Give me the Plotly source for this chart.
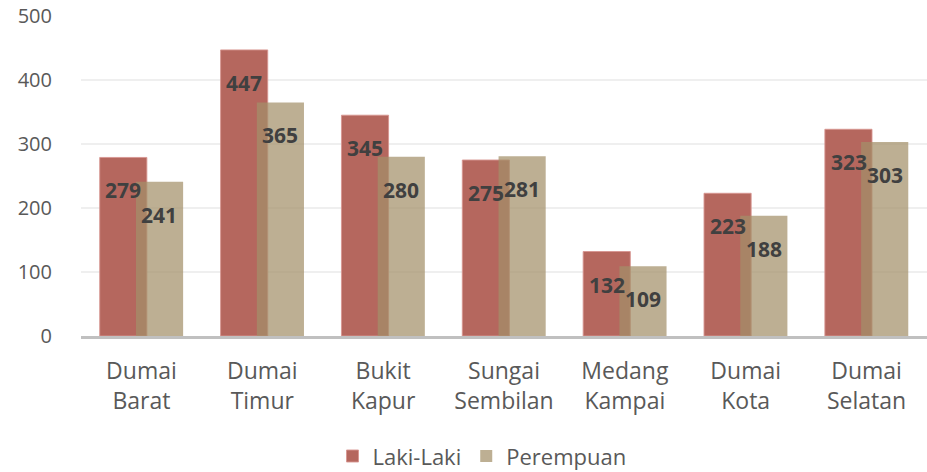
import plotly.graph_objects as go

categories = ["Dumai<br>Barat", "Dumai<br>Timur", "Bukit<br>Kapur", "Sungai<br>Sembilan",
              "Medang<br>Kampai", "Dumai<br>Kota", "Dumai<br>Selatan"]
laki = [279, 447, 345, 275, 132, 223, 323]
perempuan = [241, 365, 280, 281, 109, 188, 303]
series_names = ["Laki-Laki", "Perempuan"]
y_ticks = [0, 100, 200, 300, 400, 500]

FONT = "Open Sans"
TXT = "#595959"

fig = go.Figure()
fig.add_trace(go.Bar(
    x=categories, y=laki, name=series_names[0],
    width=0.39, offset=-0.345,
    marker=dict(color="rgb(181,103,94)", line=dict(color="rgba(215,150,145,0.9)", width=1)),
))
fig.add_trace(go.Bar(
    x=categories, y=perempuan, name=series_names[1],
    width=0.39, offset=-0.045,
    marker=dict(color="rgba(163,144,105,0.72)", line=dict(width=0)),
))

for vals, shift in ((laki, -18), (perempuan, 18)):
    for c, v in zip(categories, vals):
        fig.add_annotation(x=c, y=v, text=str(v), showarrow=False,
                           xshift=shift, yshift=-33,
                           font=dict(family=FONT, size=21, color="#404040", weight="bold"))

fig.update_layout(
    width=927, height=472,
    margin=dict(l=81, r=0, t=16, b=136, autoexpand=False),
    barmode="overlay",
    plot_bgcolor="white", paper_bgcolor="white",
    font=dict(family=FONT, color=TXT),
    showlegend=True,
    legend=dict(orientation="h", x=0.474, xanchor="center", y=-0.31, yanchor="top",
                font=dict(family=FONT, size=22, color=TXT), traceorder="normal"),
)
fig.update_xaxes(
    automargin=False,
    showline=True, linecolor="#c0c0c0", linewidth=3,
    tickfont=dict(family=FONT, size=23, color=TXT),
    ticks="outside", ticklen=12, tickcolor="rgba(0,0,0,0)",
    showgrid=False,
)
fig.update_yaxes(
    automargin=False,
    range=[0, 500], tickvals=y_ticks,
    showgrid=True, gridcolor="#efefef", gridwidth=1.5,
    zeroline=False,
    tickfont=dict(family=FONT, size=20, color=TXT),
    ticks="outside", ticklen=24, tickcolor="rgba(0,0,0,0)",
)

fig.write_html(
    "out.html",
    config={"displayModeBar": False},
    post_script="document.body.style.margin='0';document.body.style.overflow='hidden';",
)
